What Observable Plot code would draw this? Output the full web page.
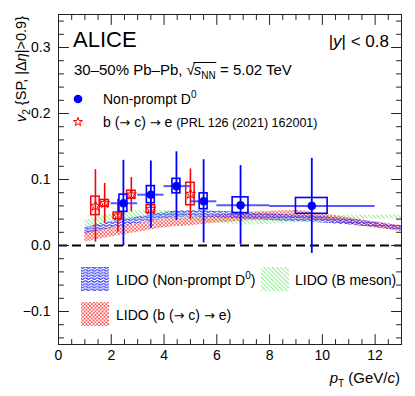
<!DOCTYPE html>
<html><head><meta charset="utf-8">
<script src="https://cdn.jsdelivr.net/npm/d3@7"></script>
<script src="https://cdn.jsdelivr.net/npm/@observablehq/plot@0.6"></script>
<style>
body{margin:0;background:#fff;}
#chart svg text{white-space:pre;}
</style>
</head><body><div id="chart"></div>
<script>
// ---------- data ----------
// Non-prompt D0 (ALICE)
const npPt    = [2.46, 3.5, 4.47, 5.5, 6.9, 9.6];
const npBinLo = [2, 3, 4, 5, 6, 8];
const npBinHi = [3, 4, 5, 6, 8, 12];
const npV2    = [0.064, 0.077, 0.090, 0.067, 0.061, 0.060];
const npStat  = [0.065, 0.051, 0.052, 0.063, 0.060, 0.072];
const npSyst  = [0.013, 0.013, 0.011, 0.012, 0.012, 0.012];

// b (-> c) -> e (PRL 126 (2021) 162001)
const hfePt   = [1.40, 1.75, 2.25, 2.76, 3.5, 5.0];
const hfeV2   = [0.060, 0.064, 0.045, 0.077, 0.055, 0.078];
const hfeStat = [0.055, 0.030, 0.025, 0.026, 0.022, 0.038];
const hfeSyst = [0.014, 0.005, 0.005, 0.006, 0.006, 0.017];

// LIDO model bands
const lidoPt   = [1, 2, 3, 4, 5, 6, 7, 8, 9, 10, 11, 12, 13];
const lidoNpLo = [0.017, 0.026, 0.033, 0.040, 0.043, 0.042, 0.040, 0.038, 0.036, 0.034, 0.031, 0.027, 0.023];
const lidoNpHi = [0.027, 0.036, 0.043, 0.050, 0.053, 0.052, 0.050, 0.048, 0.046, 0.044, 0.040, 0.035, 0.030];
const lidoELo  = [0.005, 0.013, 0.020, 0.027, 0.030, 0.034, 0.037, 0.040, 0.041, 0.037, 0.032, 0.027, 0.021];
const lidoEHi  = [0.020, 0.027, 0.033, 0.040, 0.042, 0.046, 0.050, 0.052, 0.053, 0.048, 0.042, 0.036, 0.030];
const lidoBLo  = [0.024, 0.034, 0.040, 0.041, 0.038, 0.034, 0.031, 0.032, 0.035, 0.038, 0.040, 0.040, 0.040];
const lidoBHi  = [0.038, 0.048, 0.053, 0.053, 0.048, 0.044, 0.041, 0.042, 0.044, 0.045, 0.046, 0.046, 0.046];

// axis ticks and labels
const xMajor = [0, 2, 4, 6, 8, 10, 12];
const xTickLabels = ["0", "2", "4", "6", "8", "10", "12"];
const xMinor = [0.5,1,1.5,2.5,3,3.5,4.5,5,5.5,6.5,7,7.5,8.5,9,9.5,10.5,11,11.5,12.5];
const yMajor = [-0.1, 0, 0.1, 0.2, 0.3];
const yTickLabels = ["\u22120.1", "0.0", "0.1", "0.2", "0.3"];
const yMinor = [-0.14,-0.12,-0.08,-0.06,-0.04,-0.02,0.02,0.04,0.06,0.08,0.12,0.14,0.16,0.18,0.22,0.24,0.26,0.28,0.32,0.34];

// ---------- tables ----------
const npData = npPt.map((pt, i) => ({pt, lo: npBinLo[i], hi: npBinHi[i], v2: npV2[i], stat: npStat[i], syst: npSyst[i]}));
const hfeData = hfePt.map((pt, i) => ({pt, v2: hfeV2[i], stat: hfeStat[i], syst: hfeSyst[i]}));
const lido = lidoPt.map((pt, i) => ({pt, npLo: lidoNpLo[i], npHi: lidoNpHi[i], eLo: lidoELo[i], eHi: lidoEHi[i], bLo: lidoBLo[i], bHi: lidoBHi[i]}));

const BLUE = "#0000ff", RED = "#ff0000", AX = "#222";
const FONT = "'Liberation Sans', Arial, Helvetica, sans-serif";
const ARROWFONT = "'DejaVu Sans', sans-serif";
const tickShape = {draw(ctx, l) { ctx.moveTo(0, 0); ctx.lineTo(0, -l); }};
const ticks = (data, ch, side, rot, len) => Plot.vector(data, {
  [ch]: d => d, frameAnchor: side, rotate: rot, length: len, anchor: "start",
  shape: tickShape, stroke: AX, strokeWidth: 1
});

const plot = Plot.plot({
  width: 415, height: 396,
  marginLeft: 58, marginRight: 14, marginTop: 14, marginBottom: 52,
  x: {domain: [0, 13]},
  y: {domain: [-0.15, 0.35]},
  style: {fontFamily: FONT, fontSize: "14px", background: "#fff", color: "#000", overflow: "visible"},
  marks: [
    Plot.areaY(lido, {x: "pt", y1: "bLo", y2: "bHi", fill: "url(#lidoGreen)", curve: "monotone-x"}),
    Plot.areaY(lido, {x: "pt", y1: "eLo", y2: "eHi", fill: "url(#lidoRed)", curve: "monotone-x"}),
    Plot.areaY(lido, {x: "pt", y1: "npLo", y2: "npHi", fill: "url(#lidoBlue)", curve: "monotone-x"}),
    Plot.ruleY([0], {stroke: "#000", strokeWidth: 2, strokeDasharray: "9,5"}),
    // b -> c -> e
    Plot.ruleX(hfeData, {x: "pt", y1: d => d.v2 - d.stat, y2: d => d.v2 + d.stat, stroke: RED, strokeWidth: 1.6}),
    Plot.rect(hfeData, {x1: d => d.pt - 0.16, x2: d => d.pt + 0.16, y1: d => d.v2 - d.syst, y2: d => d.v2 + d.syst, fill: "none", stroke: RED, strokeWidth: 1.5}),
    Plot.dot(hfeData, {x: "pt", y: "v2", symbol: "star", r: 3.2, fill: "none", stroke: RED, strokeWidth: 1}),
    // non-prompt D0
    Plot.ruleY(npData, {y: "v2", x1: "lo", x2: "hi", stroke: "#3b3bff", strokeWidth: 2, strokeOpacity: 0.85}),
    Plot.ruleX(npData, {x: "pt", y1: d => d.v2 - d.stat, y2: d => d.v2 + d.stat, stroke: BLUE, strokeWidth: 1.8}),
    Plot.rect(npData, {x1: d => d.pt - 0.15 * (d.hi - d.lo), x2: d => d.pt + 0.15 * (d.hi - d.lo), y1: d => d.v2 - d.syst, y2: d => d.v2 + d.syst, fill: "none", stroke: BLUE, strokeWidth: 1.6}),
    Plot.dot(npData, {x: "pt", y: "v2", r: 4.3, fill: BLUE}),
    // frame and ticks (ROOT style: inside, all four sides)
    Plot.frame({stroke: AX, strokeWidth: 1}),
    ticks(xMajor, "x", "bottom", 0, 10),
    ticks(xMajor, "x", "top", 180, 10),
    ticks(xMinor, "x", "bottom", 0, 5),
    ticks(xMinor, "x", "top", 180, 5),
    ticks(yMajor, "y", "left", 90, 10),
    ticks(yMajor, "y", "right", -90, 10),
    ticks(yMinor, "y", "left", 90, 5),
    ticks(yMinor, "y", "right", -90, 5),
    Plot.axisX(xMajor, {anchor: "bottom", tickSize: 0, tickPadding: 6, tickFormat: d => xTickLabels[xMajor.indexOf(d)], fontSize: 14, label: null}),
    Plot.axisY(yMajor, {anchor: "left", tickSize: 0, tickPadding: 8, tickFormat: d => yTickLabels[yMajor.indexOf(d)], fontSize: 14, label: null})
  ]
});

document.getElementById("chart").appendChild(plot);
const svg = d3.select(plot);

// ---------- hatch patterns ----------
const defs = svg.insert("defs", ":first-child");
const pb = defs.append("pattern").attr("id", "lidoBlue").attr("patternUnits", "userSpaceOnUse").attr("width", 6).attr("height", 2.8);
pb.append("path").attr("d", "M0,1.4 Q1.5,0 3,1.4 T6,1.4").attr("fill", "none").attr("stroke", "#1a1aff").attr("stroke-width", 1.1);
const pr = defs.append("pattern").attr("id", "lidoRed").attr("patternUnits", "userSpaceOnUse").attr("width", 3.6).attr("height", 3.6);
pr.append("path").attr("d", "M0,0L3.6,3.6M3.6,0L0,3.6").attr("fill", "none").attr("stroke", "#ff3030").attr("stroke-width", 0.7);
const pg = defs.append("pattern").attr("id", "lidoGreen").attr("patternUnits", "userSpaceOnUse").attr("width", 3).attr("height", 3).attr("patternTransform", "rotate(-45)");
pg.append("line").attr("x1", 0).attr("y1", 0).attr("x2", 0).attr("y2", 3).attr("stroke", "#22dd22").attr("stroke-width", 1);

// ---------- rich text helper ----------
function rich(parent, segs, size) {
  const g = parent.append("g").attr("font-family", FONT).attr("fill", "#000").attr("text-anchor", "start");
  let cx = 0;
  const marks = {};
  for (const s of segs) {
    if (s.mark) { marks[s.mark] = cx; continue; }
    const fs = s.size || size;
    const t = g.append("text").attr("x", cx).attr("y", s.dy || 0).attr("font-size", fs)
      .attr("text-anchor", "start")
      .attr("font-family", s.font || null)
      .attr("font-style", s.italic ? "italic" : null).text(s.t);
    cx += t.node().getComputedTextLength() + (s.kern || 0);
  }
  return {g, width: cx, marks};
}
const AR = {t: "\u2192", font: ARROWFONT, size: 13};

// ALICE
rich(svg, [{t: "ALICE"}], 22).g.attr("transform", "translate(73,47)");
// |y| < 0.8
{
  const r = rich(svg, [{t: "|"}, {t: "y", italic: true}, {t: "| < 0.8"}], 17);
  r.g.attr("transform", `translate(${389 - r.width},47)`);
}
// 30-50% Pb-Pb, sqrt(sNN) = 5.02 TeV
{
  const r = rich(svg, [
    {t: "30\u201350% Pb\u2013Pb, "}, {t: "\u221A", kern: -1}, {mark: "o1"},
    {t: "s", italic: true}, {t: "NN", size: 10, dy: 4}, {mark: "o2"}, {t: " = 5.02 TeV"}
  ], 15);
  r.g.attr("transform", "translate(74,75)");
  r.g.append("line").attr("x1", r.marks.o1 - 0.5).attr("x2", r.marks.o2 + 0.5).attr("y1", -12.5).attr("y2", -12.5)
    .attr("stroke", "#000").attr("stroke-width", 1);
}
// legend: data
svg.append("circle").attr("cx", 78).attr("cy", 99).attr("r", 4.3).attr("fill", BLUE);
rich(svg, [{t: "Non-prompt D"}, {t: "0", size: 10, dy: -6}], 14).g.attr("transform", "translate(103,104)");
svg.append("path").attr("d", d3.symbol(d3.symbolStar, Math.PI * 2.8 * 2.8)()).attr("transform", "translate(78,122)")
  .attr("fill", "none").attr("stroke", RED).attr("stroke-width", 1);
rich(svg, [{t: "b ("}, AR, {t: " c) "}, AR, {t: " e "}, {t: "(PRL 126 (2021) 162001)", size: 12.5}], 14).g.attr("transform", "translate(103,127)");

// legend: LIDO
svg.append("rect").attr("x", 81).attr("y", 267).attr("width", 28).attr("height", 24).attr("fill", "url(#lidoBlue)");
rich(svg, [{t: "LIDO (Non-prompt D"}, {t: "0", size: 10, dy: -6}, {t: ")"}], 14).g.attr("transform", "translate(116,285)");
svg.append("rect").attr("x", 261).attr("y", 267).attr("width", 28).attr("height", 24).attr("fill", "url(#lidoGreen)");
rich(svg, [{t: "LIDO (B meson)"}], 14).g.attr("transform", "translate(295,285)");
svg.append("rect").attr("x", 81).attr("y", 302).attr("width", 28).attr("height", 24).attr("fill", "url(#lidoRed)");
rich(svg, [{t: "LIDO (b ("}, AR, {t: " c) "}, AR, {t: " e)"}], 14).g.attr("transform", "translate(116,320)");

// y-axis title
{
  const r = rich(svg, [{t: "v", italic: true}, {t: "2", size: 10, dy: 4}, {t: " {SP, |\u0394"}, {t: "\u03B7", italic: true}, {t: "|>0.9}"}], 14.5);
  r.g.attr("transform", `translate(26,16) rotate(-90) translate(${-r.width},0)`);
}
// x-axis title
{
  const r = rich(svg, [{t: "p", italic: true}, {t: "T", size: 10, dy: 4}, {t: " (GeV/"}, {t: "c", italic: true}, {t: ")"}], 15);
  r.g.attr("transform", `translate(${400 - r.width},383)`);
}
</script>
</body></html>
